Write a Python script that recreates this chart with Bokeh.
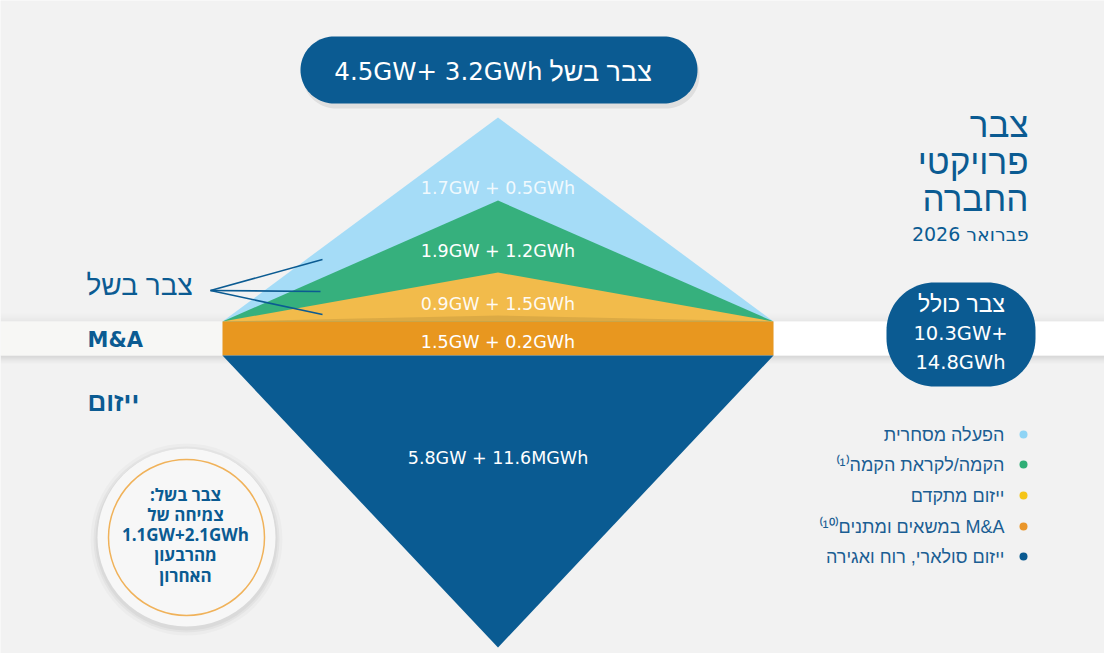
import numpy as np
from bokeh.plotting import figure
from bokeh.models import Range1d
from bokeh.core.properties import value
from bokeh.embed import file_html
from bokeh.resources import INLINE

# ---------------- data ----------------
layer_names = ["הפעלה מסחרית", "⁽¹⁾הקמה/לקראת הקמה", "ייזום מתקדם",
               "⁽¹⁰⁾במשאים ומתנים M&A", "ייזום סולארי, רוח ואגירה"]
gw_values = [1.7, 1.9, 0.9, 1.5, 5.8]
gwh_values = [0.5, 1.2, 1.5, 0.2, 11.6]
gwh_units = ["GWh", "GWh", "GWh", "GWh", "MGWh"]
mature_total = ["4.5GW+", "3.2GWh"]
mature_label = "צבר בשל"
total_lines = ["צבר כולל", "10.3GW+", "14.8GWh"]
title_lines = ["צבר", "פרויקטי", "החברה"]
date_label = "2026 פברואר"
growth_lines = [":צבר בשל", "צמיחה של", "1.1GW+2.1GWh", "מהרבעון", "האחרון"]
side_labels = ["צבר בשל", "M&A", "ייזום"]

# ---------------- styles ----------------
FONT = value("Open Sans")
WIDE = value("DejaVu Sans")
HEB = value("Liberation Sans")
BG = "#f2f2f2"
NAVY = "#0b5b92"
tri_colors = ["#a5dcf7", "#36b07d", "#f2bb4b", "#e8971f", "#0a5b92"]
dot_colors = ["#8fd4f5", "#2fae76", "#f5c518", "#ea962a", "#0a5a91"]

W, H = 1104, 653
p = figure(width=W, height=H, x_range=Range1d(0, W), y_range=Range1d(H, 0),
           output_backend="svg", toolbar_location=None, min_border=0)
p.axis.visible = False
p.grid.visible = False
p.outline_line_color = None
p.background_fill_color = BG
p.border_fill_color = BG


def rounded(x0, x1, y0, y1, r, n=24):
    xs, ys = [], []
    corners = [(x1 - r, y0 + r, -90, 0), (x1 - r, y1 - r, 0, 90),
               (x0 + r, y1 - r, 90, 180), (x0 + r, y0 + r, 180, 270)]
    for cx, cy, a0, a1 in corners:
        t = np.radians(np.linspace(a0, a1, n))
        xs += list(cx + r * np.cos(t))
        ys += list(cy + r * np.sin(t))
    return xs, ys


# ---------- band ----------
L, R, CX = 222, 773, 497.5
band_top, band_bot = 321, 355
apex_y = [117, 200, 272]
bottom_apex = 647

for i, a in enumerate([0.10, 0.07, 0.04, 0.02]):
    p.quad(left=0, right=W, top=band_bot + i * 2, bottom=band_bot + i * 2 + 2,
           fill_color="#000000", fill_alpha=a, line_color=None)
    p.quad(left=0, right=W, top=band_top - i * 2 - 2, bottom=band_top - i * 2,
           fill_color="#000000", fill_alpha=a * 0.4, line_color=None)
p.quad(left=0, right=L, top=band_top, bottom=band_bot, fill_color="#f7f7f5", line_color=None)
p.quad(left=R, right=W, top=band_top, bottom=band_bot, fill_color="#ffffff", line_color=None)

# ---------- upper triangles ----------
for k, ay in enumerate(apex_y):
    p.patch([L, CX, R], [band_top, ay, band_top], fill_color=tri_colors[k], line_color=None)
    p.patch([L, CX, R], [band_top, band_top - 6, band_top], fill_color="#000000",
            fill_alpha=0.09, line_color=None)

# ---------- M&A bar ----------
p.quad(left=L, right=R, top=band_top, bottom=band_bot, fill_color=tri_colors[3], line_color=None)
# ---------- lower triangle ----------
p.patch([L, R, CX], [band_bot, band_bot, bottom_apex], fill_color=tri_colors[4], line_color=None)

# ---------- layer labels ----------
label_y = [187, 250, 303, 341, 457]
labels = [f"{g}GW + {h}{u}" for g, h, u in zip(gw_values, gwh_values, gwh_units)]
p.text(x=[CX] * 5, y=label_y, text=labels, text_font=WIDE, text_font_size="17.5px",
       text_color="white", text_align="center", text_baseline="middle",
       text_alpha=[0.85, 1, 0.95, 1, 1])

# ---------- top pill ----------
sx, sy = rounded(300 + 2, 697 + 2, 36 + 5, 103 + 5, 33.5)
p.patch(sx, sy, fill_color="#000000", fill_alpha=0.08, line_color=None)
sx, sy = rounded(300, 697, 36, 103, 33.5)
p.patch(sx, sy, fill_color=NAVY, line_color=None)
p.text(x=[542], y=[71], text=[f"{mature_total[0]} {mature_total[1]}"], text_font=WIDE,
       text_font_size="24.5px", text_color="white", text_align="right", text_baseline="middle")
p.text(x=[549], y=[71], text=[mature_label], text_font=HEB,
       text_font_size="27px", text_color="white", text_align="left", text_baseline="middle")

# ---------- right title ----------
p.text(x=[1028] * 3, y=[124, 161, 198], text=title_lines, text_font=HEB,
       text_font_size="35px", text_color=NAVY, text_align="right", text_baseline="middle")
p.text(x=[1028], y=[233], text=[date_label], text_font=WIDE, text_font_size="19px",
       text_color=NAVY, text_align="right", text_baseline="middle")

# ---------- total pill ----------
sx, sy = rounded(886, 1035, 282, 386, 48)
p.patch(sx, sy, fill_color=NAVY, line_color=None)
p.text(x=[961], y=[303], text=[total_lines[0]], text_font=HEB,
       text_font_size="23px", text_color="white", text_align="center", text_baseline="middle")
p.text(x=[960] * 2, y=[333, 362], text=total_lines[1:], text_font=WIDE,
       text_font_size="19.5px", text_color="white", text_align="center", text_baseline="middle")

# ---------- left labels ----------
p.text(x=[86], y=[285], text=[side_labels[0]], text_font=HEB, text_font_size="28px",
       text_color=NAVY, text_align="left", text_baseline="middle")
p.text(x=[87], y=[339], text=[side_labels[1]], text_font=WIDE, text_font_size="21px",
       text_font_style="bold", text_color=NAVY, text_align="left", text_baseline="middle")
p.text(x=[87], y=[401], text=[side_labels[2]], text_font=HEB, text_font_size="26px",
       text_font_style="bold", text_color=NAVY, text_align="left", text_baseline="middle")
p.multi_line(xs=[[210, 322], [210, 320], [210, 322]], ys=[[290, 259], [290, 291], [290, 314]],
             line_color=NAVY, line_width=1.6)

# ---------- growth circle ----------
for r_, a in [(96, 0.025), (93, 0.035), (91, 0.04)]:
    p.circle(x=[186], y=[539], radius=r_, fill_color="#000000", fill_alpha=a, line_color=None)
p.circle(x=[186], y=[537], radius=89, fill_color="#f7f7f7", line_color=None)
p.circle(x=[186], y=[537], radius=78, fill_color=None, line_color="#f0b25a", line_width=1.5)
p.text(x=[185] * 5, y=[494, 514, 534, 554, 575], text=growth_lines, text_font=FONT,
       text_font_size="17px", text_font_style="bold", text_color=NAVY,
       text_align="center", text_baseline="middle")

# ---------- legend ----------
leg_y = [434, 464, 495, 526, 556]
p.scatter(x=[1023] * 5, y=leg_y, size=8, fill_color=dot_colors, line_color=None)
p.text(x=[1004] * 5, y=leg_y, text=layer_names, text_font=HEB, text_font_size="18px",
       text_color="#1b5e93", text_align="right", text_baseline="middle")

html = file_html(p, INLINE)
open("out.html", "w").write(html)
